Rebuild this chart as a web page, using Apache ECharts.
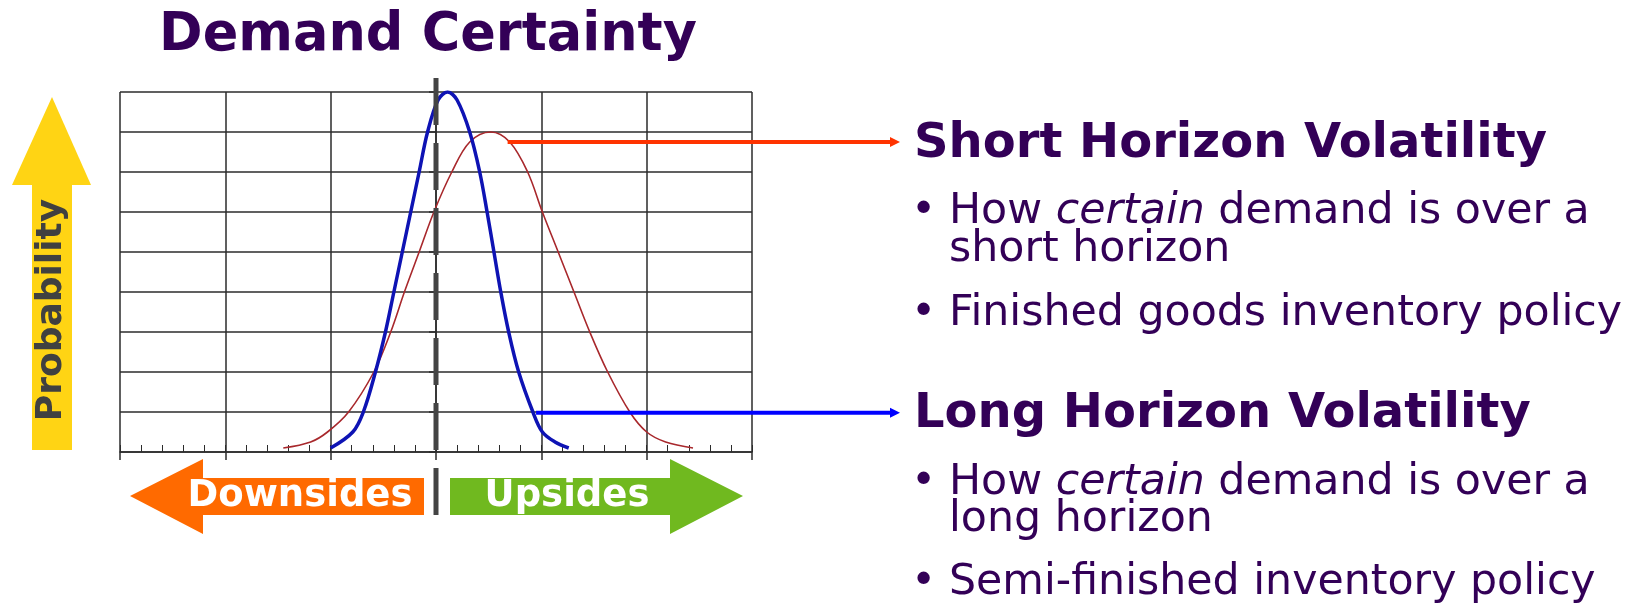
<!DOCTYPE html>
<html>
<head>
<meta charset="utf-8">
<script src="https://cdn.jsdelivr.net/npm/echarts@6/dist/echarts.min.js"></script>
<style>
  html, body { margin: 0; padding: 0; background: #fff; }
  #chart { width: 1637px; height: 603px; }
</style>
</head>
<body>
<div id="chart"></div>
<script>
// curves: [x, probability]
const longHorizon = [
  [-1.0, 0.1], [-0.79, 0.5], [-0.69, 1], [-0.575, 2], [-0.48, 3], [-0.40, 4],
  [-0.32, 5], [-0.24, 6], [-0.16, 7], [-0.08, 8], [0.02, 8.8], [0.11, 9],
  [0.2, 8.8], [0.32, 8], [0.415, 7], [0.485, 6], [0.55, 5], [0.615, 4],
  [0.69, 3], [0.785, 2], [0.92, 1], [1.01, 0.5], [1.13, 0.25], [1.26, 0.1]
];
const shortHorizon = [
  [-1.45, 0.1], [-1.19, 0.25], [-1.03, 0.5], [-0.83, 1], [-0.59, 2], [-0.43, 3],
  [-0.30, 4], [-0.16, 5], [-0.02, 6], [0.15, 7], [0.32, 7.75], [0.52, 8],
  [0.70, 7.75], [0.87, 7], [1.01, 6], [1.16, 5], [1.31, 4], [1.46, 3],
  [1.63, 2], [1.84, 1], [2.0, 0.5], [2.18, 0.25], [2.44, 0.1]
];
// where the callout arrows leave each curve
const shortArrowFrom = [0.68, 7.75];
const longArrowFrom = [0.95, 0.98];

const title = "Demand Certainty";
const shortTitle = "Short Horizon Volatility";
const longTitle = "Long Horizon Volatility";
const shortBullets = ["How {i|certain} demand is over a", "short horizon", "Finished goods inventory policy"];
const longBullets = ["How {i|certain} demand is over a", "long horizon", "Semi-finished inventory policy"];

const purple = "#330057";
const font = "DejaVu Sans";
const gridColor = "#2b2b2b";

const chart = echarts.init(document.getElementById("chart"));

chart.setOption({
  animation: false,
  backgroundColor: "#fff",
  grid: [
    { left: 120, top: 92, width: 632, height: 360 },
    { left: 120, top: 92, width: 632, height: 360 }
  ],
  xAxis: [
    {
      type: "value", min: -3, max: 3, interval: 1, gridIndex: 0,
      axisLine: { show: true, lineStyle: { color: gridColor, width: 1.5 } },
      axisTick: { show: true, inside: true, length: 7, lineStyle: { color: gridColor } },
      minorTick: { show: true, splitNumber: 5, length: 7, lineStyle: { color: gridColor, width: 1 } },
      axisLabel: { show: false },
      splitLine: { show: true, lineStyle: { color: gridColor, width: 1.5 } }
    },
    {
      type: "value", min: -3, max: 3, interval: 1, gridIndex: 1,
      axisLine: { show: false },
      axisTick: { show: true, inside: false, length: 8, lineStyle: { color: gridColor, width: 1.5 } },
      axisLabel: { show: false },
      splitLine: { show: false }
    }
  ],
  yAxis: [
    {
      type: "value", min: 0, max: 9, interval: 1, gridIndex: 0,
      axisLine: { show: true, lineStyle: { color: gridColor, width: 1.5 } },
      axisTick: { show: true, length: 7, lineStyle: { color: gridColor, width: 1.5 } },
      axisLabel: { show: false },
      splitLine: { show: true, lineStyle: { color: gridColor, width: 1.5 } }
    },
    { type: "value", min: 0, max: 9, gridIndex: 1, show: false }
  ],
  series: [
    {
      name: "Long horizon", type: "line", data: longHorizon, smooth: 0.35,
      showSymbol: false, lineStyle: { color: "#0e13b4", width: 3.5 }, z: 4
    },
    {
      name: "Short horizon", type: "line", data: shortHorizon, smooth: 0.35,
      showSymbol: false, lineStyle: { color: "#a8282c", width: 1.6 }, z: 3
    }
  ]
});

const centerX = chart.convertToPixel({ seriesIndex: 0 }, [0, 0])[0];
const redFrom = chart.convertToPixel({ seriesIndex: 1 }, shortArrowFrom);
const blueFrom = chart.convertToPixel({ seriesIndex: 0 }, longArrowFrom);
const tipX = 900;

function callout(from, color) {
  const y = from[1];
  return [
    { type: "line", shape: { x1: from[0], y1: y, x2: tipX - 8, y2: y },
      style: { stroke: color, lineWidth: 4 }, z: 10 },
    { type: "polygon", shape: { points: [[tipX - 10, y - 5], [tipX, y], [tipX - 10, y + 5]] },
      style: { fill: color }, z: 10 }
  ];
}

function txt(text, x, y, size, opts) {
  return {
    type: "text", x: x, y: y, z: 20,
    style: Object.assign({
      text: text, fontFamily: font, fontSize: size, fill: purple,
      textAlign: "left", textVerticalAlign: "middle",
      rich: { i: { fontStyle: "italic", fontFamily: font, fontSize: size, fill: purple } }
    }, opts || {})
  };
}

const bulletSize = 42.7;
const headSize = 48;
const elements = [
  // dashed centre line
  { type: "line", shape: { x1: centerX, y1: 78, x2: centerX, y2: 515 },
    style: { stroke: "#444", lineWidth: 5, lineDash: [47, 18] }, z: 5 },
  // probability arrow
  { type: "polygon", shape: { points: [[32, 185], [72, 185], [72, 450], [32, 450]] }, style: { fill: "#ffd414" } },
  { type: "polygon", shape: { points: [[12, 185], [91, 185], [52, 97]] }, style: { fill: "#ffd414" } },
  { type: "text", x: 52, y: 310, rotation: Math.PI / 2, z: 20,
    style: { text: "Probability", fontFamily: font, fontSize: 36, fontWeight: "bold", fill: "#404040",
      textAlign: "center", textVerticalAlign: "middle" } },
  // downsides / upsides arrows
  { type: "polygon", shape: { points: [[130, 496], [203, 459], [203, 478], [424, 478], [424, 515], [203, 515], [203, 534]] },
    style: { fill: "#ff6a00" } },
  { type: "polygon", shape: { points: [[450, 478], [670, 478], [670, 459], [743, 496], [670, 534], [670, 515], [450, 515]] },
    style: { fill: "#70b91f" } },
  { type: "text", x: 300, y: 496, z: 20,
    style: { text: "Downsides", fontFamily: font, fontSize: 37, fontWeight: "bold", fill: "#fff",
      textAlign: "center", textVerticalAlign: "middle" } },
  { type: "text", x: 567, y: 496, z: 20,
    style: { text: "Upsides", fontFamily: font, fontSize: 37, fontWeight: "bold", fill: "#fff",
      textAlign: "center", textVerticalAlign: "middle" } },
  // title
  txt(title, 428, 36, 52.5, { fontWeight: "bold", textAlign: "center" }),
  // right side text
  txt(shortTitle, 914, 145, headSize, { fontWeight: "bold" }),
  txt("\u2022", 911, 212, bulletSize),
  txt(shortBullets[0], 949, 212, bulletSize),
  txt(shortBullets[1], 949, 250, bulletSize),
  txt("\u2022", 911, 314, bulletSize),
  txt(shortBullets[2], 949, 314, bulletSize),
  txt(longTitle, 914, 415, headSize, { fontWeight: "bold" }),
  txt("\u2022", 911, 483, bulletSize),
  txt(longBullets[0], 949, 483, bulletSize),
  txt(longBullets[1], 949, 520, bulletSize),
  txt("\u2022", 911, 583, bulletSize),
  txt(longBullets[2], 949, 583, bulletSize)
].concat(callout(redFrom, "#ff3300"), callout(blueFrom, "#0000ff"));

chart.setOption({ graphic: { elements: elements } });
</script>
</body>
</html>
